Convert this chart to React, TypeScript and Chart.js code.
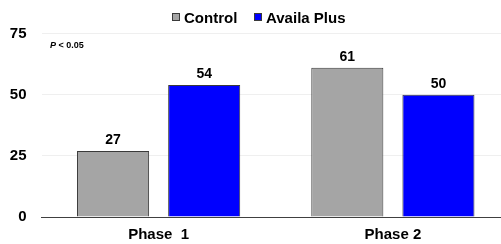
import React, { useEffect, useRef } from "react";
import { Chart, registerables } from "chart.js";

Chart.register(...registerables);

const categories = ["Phase  1", "Phase 2"];
const seriesNames = ["Control", "Availa Plus"];
const controlValues = [27, 61];
const availaValues = [54, 50];
const yTicks = [0, 25, 50, 75];
const note = "< 0.05";

const FONT = "'Liberation Sans', Arial, sans-serif";
const GRAY = "#A5A5A5";
const BLUE = "#0000FF";
const BORDER = "#3a3a3a";

const overlayPlugin = {
  id: "overlay",
  afterDatasetsDraw(chart: any) {
    const ctx = chart.ctx;
    ctx.save();
    // data labels
    ctx.font = `bold 14px ${FONT}`;
    ctx.fillStyle = "#000";
    ctx.textAlign = "center";
    ctx.textBaseline = "alphabetic";
    chart.data.datasets.forEach((ds: any, i: number) => {
      const meta = chart.getDatasetMeta(i);
      meta.data.forEach((bar: any, j: number) => {
        ctx.fillText(String(ds.data[j]), bar.x, bar.y - 6.5);
      });
    });
    // legend
    const colors = [GRAY, BLUE];
    const xs = [172, 254];
    ctx.font = `bold 15px ${FONT}`;
    ctx.textAlign = "left";
    seriesNames.forEach((name, i) => {
      ctx.fillStyle = colors[i];
      ctx.fillRect(xs[i] + 0.5, 13.5, 7, 7);
      ctx.strokeStyle = BORDER;
      ctx.lineWidth = 1;
      ctx.strokeRect(xs[i] + 0.5, 13.5, 7, 7);
      ctx.fillStyle = "#000";
      ctx.fillText(name, xs[i] + 12, 22.5);
    });
    // p-value note
    ctx.font = `italic bold 9px ${FONT}`;
    ctx.fillText("P", 50, 47.5);
    const pw = ctx.measureText("P ").width;
    ctx.font = `bold 9px ${FONT}`;
    ctx.fillText(note, 50 + pw, 47.5);
    ctx.restore();
  },
};

export default function App() {
  const ref = useRef<HTMLCanvasElement>(null);
  useEffect(() => {
    const chart = new Chart(ref.current as HTMLCanvasElement, {
      type: "bar",
      data: {
        labels: categories,
        datasets: [
          {
            label: seriesNames[0],
            data: controlValues,
            backgroundColor: GRAY,
            borderColor: BORDER,
            borderWidth: 1,
            categoryPercentage: 0.778,
            barPercentage: 0.791,
          },
          {
            label: seriesNames[1],
            data: availaValues,
            backgroundColor: BLUE,
            borderColor: BORDER,
            borderWidth: 1,
            categoryPercentage: 0.778,
            barPercentage: 0.791,
          },
        ],
      },
      options: {
        animation: false,
        responsive: true,
        maintainAspectRatio: false,
        layout: { padding: { top: 33.5, left: 0, right: 0, bottom: 0 } },
        plugins: { legend: { display: false }, tooltip: { enabled: false } },
        scales: {
          x: {
            grid: { display: false, drawTicks: false },
            border: { display: true, color: "#404040", width: 1 },
            ticks: {
              color: "#000",
              font: { family: FONT, size: 15, weight: "bold" },
              padding: 9,
            },
            afterFit(scale: any) {
              scale.height = 27;
            },
          },
          y: {
            min: 0,
            max: 75,
            afterBuildTicks(scale: any) {
              scale.ticks = yTicks.map((v) => ({ value: v }));
            },
            grid: { color: "#efefef", drawTicks: false },
            border: { display: false },
            ticks: {
              color: "#000",
              font: { family: FONT, size: 15, weight: "bold" },
              padding: 15,
            },
            afterFit(scale: any) {
              scale.width = 41.5;
            },
          },
        },
      },
      plugins: [overlayPlugin],
    });
    return () => chart.destroy();
  }, []);
  return (
    <div
      style={{
        position: "fixed",
        left: 0,
        top: 0,
        width: 501,
        height: 244,
        overflow: "hidden",
        background: "#fff",
      }}
    >
      <div style={{ position: "relative", width: 510, height: 244 }}>
        <canvas ref={ref} />
      </div>
    </div>
  );
}
